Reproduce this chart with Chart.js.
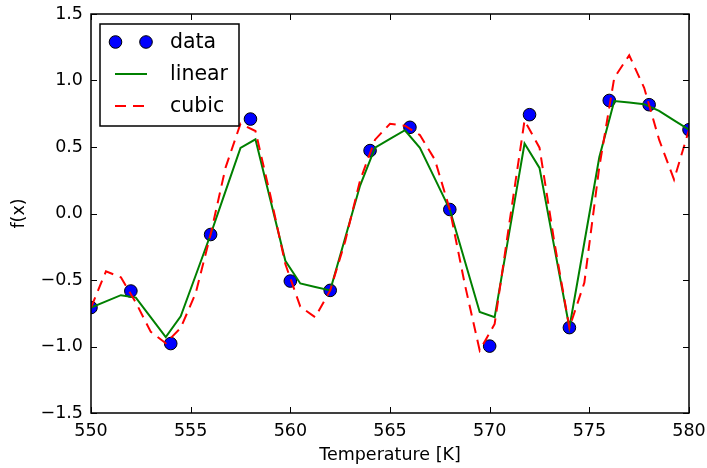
<!DOCTYPE html>
<html>
<head>
<meta charset="utf-8">
<script src="https://cdn.jsdelivr.net/npm/chart.js@4.4.1/dist/chart.umd.min.js"></script>
<style>
  html, body { margin: 0; padding: 0; background: #fff; }
  #wrap { width: 707px; height: 468px; }
</style>
</head>
<body>
<div id="wrap"><canvas id="chart" width="707" height="468"></canvas></div>
<script>
// measured points
var dataX = [550, 552, 554, 556, 558, 560, 562, 564, 566, 568, 570, 572, 574, 576, 578, 580];
var dataY = [-0.707, -0.583, -0.978, -0.158, 0.71, -0.508, -0.578, 0.473, 0.648, 0.030, -0.997, 0.743, -0.858, 0.85, 0.818, 0.63];

// fine grid used by the two curves
var fineX = [550, 550.75, 551.5, 552.25, 553, 553.75, 554.5, 555.25, 556, 556.75,
             557.5, 558.25, 559, 559.75, 560.5, 561.25, 562, 562.75, 563.5, 564.25,
             565, 565.75, 566.5, 567.25, 568, 568.75, 569.5, 570.25, 571, 571.75,
             572.5, 573.25, 574, 574.75, 575.5, 576.25, 577, 577.75, 578.5, 579.25, 580];
var linearY = [-0.707, -0.661, -0.614, -0.632, -0.781, -0.929, -0.773, -0.466, -0.158, 0.168,
               0.493, 0.558, 0.101, -0.356, -0.526, -0.552, -0.578, -0.184, 0.210, 0.495,
               0.561, 0.626, 0.494, 0.262, 0.030, -0.355, -0.740, -0.780, -0.127, 0.526,
               0.343, -0.258, -0.858, -0.218, 0.423, 0.846, 0.834, 0.822, 0.771, 0.700, 0.63];
var cubicY = [-0.707, -0.435, -0.48, -0.67, -0.89, -0.975, -0.86, -0.60, -0.158, 0.345,
              0.675, 0.62, 0.135, -0.38, -0.70, -0.78, -0.578, -0.21, 0.25, 0.555,
              0.675, 0.66, 0.59, 0.405, 0.030, -0.53, -1.03, -0.83, -0.06, 0.70,
              0.495, -0.22, -0.858, -0.52, 0.35, 1.02, 1.19, 0.945, 0.555, 0.255, 0.63];

var xTickValues = [550, 555, 560, 565, 570, 575, 580];
var yTickValues = [-1.5, -1.0, -0.5, 0.0, 0.5, 1.0, 1.5];

var FONT = 'DejaVu Sans';
var TICK_SIZE = 17.5;
var DASH = [11, 7];

function pts(xs, ys) {
    var out = [];
    for (var i = 0; i < xs.length; i++) {
        out.push({x: xs[i], y: ys[i]});
    }
    return out;
}

// matplotlib style frame with inward ticks on all four sides
var framePlugin = {
    id: 'frame',
    afterDraw: function (chart) {
        var ctx = chart.ctx;
        var a = chart.chartArea;
        var xs = chart.scales.x, ys = chart.scales.y;
        var tl = 6;
        ctx.save();
        ctx.strokeStyle = '#000';
        ctx.lineWidth = 1;
        ctx.beginPath();
        xTickValues.forEach(function (v) {
            var px = Math.round(xs.getPixelForValue(v)) + 0.5;
            ctx.moveTo(px, a.bottom); ctx.lineTo(px, a.bottom - tl);
            ctx.moveTo(px, a.top); ctx.lineTo(px, a.top + tl);
        });
        yTickValues.forEach(function (v) {
            var py = Math.round(ys.getPixelForValue(v)) + 0.5;
            ctx.moveTo(a.left, py); ctx.lineTo(a.left + tl, py);
            ctx.moveTo(a.right, py); ctx.lineTo(a.right - tl, py);
        });
        ctx.stroke();
        ctx.lineWidth = 1.5;
        ctx.strokeRect(a.left, a.top, a.right - a.left, a.bottom - a.top);
        ctx.restore();
    }
};

// legend box in the upper left corner
var legendPlugin = {
    id: 'boxLegend',
    afterDraw: function (chart) {
        var ctx = chart.ctx;
        var ds = chart.data.datasets;
        var bx = 100, by = 24, bw = 139, bh = 102;
        var rows = [42, 74, 106];
        var x0 = 115, x1 = 147, tx = 170;
        ctx.save();
        ctx.fillStyle = '#fff';
        ctx.fillRect(bx, by, bw, bh);
        ctx.strokeStyle = '#000';
        ctx.lineWidth = 1.5;
        ctx.strokeRect(bx, by, bw, bh);

        ds.forEach(function (d, i) {
            var y = rows[i];
            if (d.showLine === false) {
                [x0 + 0.5, x1 - 1].forEach(function (cx) {
                    ctx.beginPath();
                    ctx.arc(cx, y, d.pointRadius, 0, Math.PI * 2);
                    ctx.fillStyle = d.pointBackgroundColor;
                    ctx.fill();
                    ctx.lineWidth = 1;
                    ctx.strokeStyle = d.pointBorderColor;
                    ctx.stroke();
                });
            } else {
                ctx.beginPath();
                ctx.setLineDash(d.borderDash || []);
                ctx.strokeStyle = d.borderColor;
                ctx.lineWidth = d.borderWidth;
                ctx.moveTo(x0, y);
                ctx.lineTo(x1, y);
                ctx.stroke();
                ctx.setLineDash([]);
            }
            ctx.fillStyle = '#000';
            ctx.font = '20.5px "' + FONT + '"';
            ctx.textBaseline = 'middle';
            ctx.textAlign = 'left';
            ctx.fillText(d.label, tx, y + 1);
        });
        ctx.restore();
    }
};

new Chart(document.getElementById('chart'), {
    type: 'line',
    data: {
        datasets: [
            {
                label: 'data',
                data: pts(dataX, dataY),
                showLine: false,
                pointRadius: 6.3,
                pointBackgroundColor: '#0000ff',
                pointBorderColor: '#000',
                pointBorderWidth: 1,
                clip: 0,
                order: 3
            },
            {
                label: 'linear',
                data: pts(fineX, linearY),
                borderColor: '#008000',
                borderWidth: 2,
                pointRadius: 0,
                tension: 0,
                fill: false,
                clip: 0,
                order: 2
            },
            {
                label: 'cubic',
                data: pts(fineX, cubicY),
                borderColor: '#ff0000',
                borderWidth: 2,
                borderDash: DASH,
                pointRadius: 0,
                tension: 0,
                fill: false,
                clip: 0,
                order: 1
            }
        ]
    },
    options: {
        responsive: false,
        animation: false,
        devicePixelRatio: 1,
        layout: { padding: { top: 14, right: 18, left: 0, bottom: 0 } },
        plugins: {
            legend: { display: false },
            tooltip: { enabled: false }
        },
        scales: {
            x: {
                type: 'linear',
                min: 550,
                max: 580,
                afterBuildTicks: function (s) {
                    s.ticks = xTickValues.map(function (v) { return {value: v}; });
                },
                afterFit: function (s) {
                    s.height = 55;
                    s.paddingLeft = 0; s.paddingRight = 0;
                    s.paddingTop = 0; s.paddingBottom = 0;
                },
                grid: { display: false, drawTicks: false },
                border: { display: false },
                ticks: {
                    color: '#000',
                    font: { family: FONT, size: TICK_SIZE },
                    padding: 8,
                    maxRotation: 0,
                    callback: function (v) { return String(v); }
                },
                title: {
                    display: true,
                    text: 'Temperature [K]',
                    color: '#000',
                    font: { family: FONT, size: TICK_SIZE },
                    padding: { top: 0, bottom: 2 }
                }
            },
            y: {
                type: 'linear',
                min: -1.5,
                max: 1.5,
                afterBuildTicks: function (s) {
                    s.ticks = yTickValues.map(function (v) { return {value: v}; });
                },
                afterFit: function (s) {
                    s.width = 91;
                    s.paddingLeft = 0; s.paddingRight = 0;
                    s.paddingTop = 0; s.paddingBottom = 0;
                },
                grid: { display: false, drawTicks: false },
                border: { display: false },
                ticks: {
                    color: '#000',
                    font: { family: FONT, size: TICK_SIZE },
                    padding: 8,
                    callback: function (v) { return v.toFixed(1).replace('-', '\u2212'); }
                },
                title: {
                    display: true,
                    text: 'f(x)',
                    color: '#000',
                    font: { family: FONT, size: TICK_SIZE },
                    padding: { top: 9, bottom: 0 }
                }
            }
        }
    },
    plugins: [framePlugin, legendPlugin]
});
</script>
</body>
</html>
